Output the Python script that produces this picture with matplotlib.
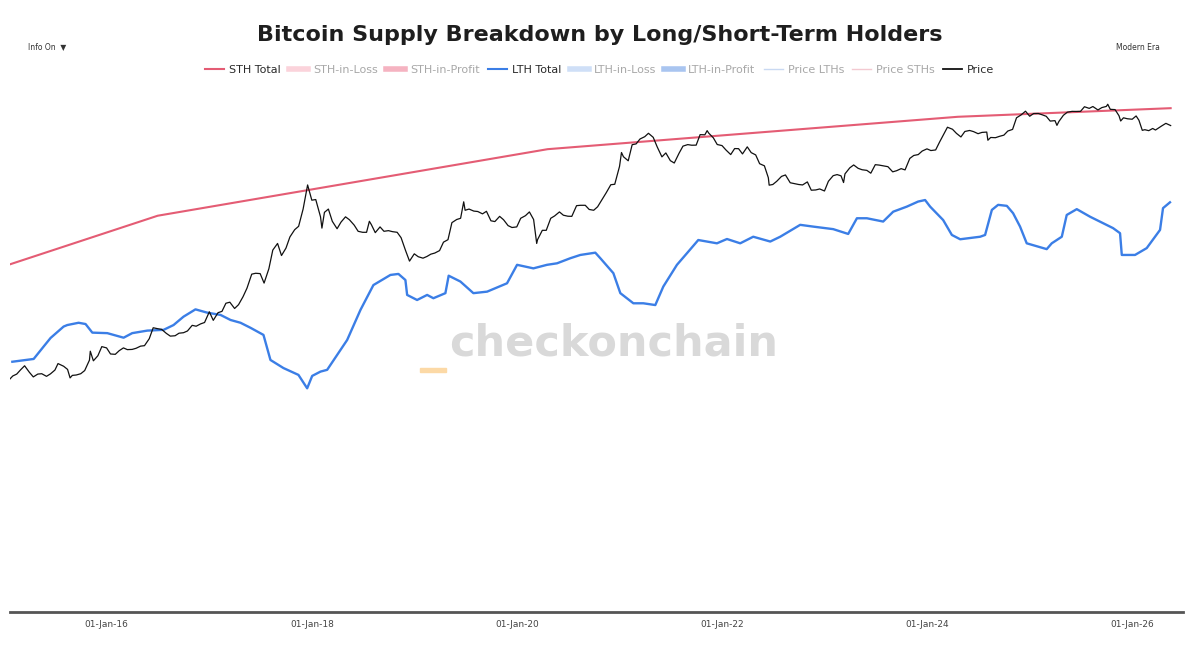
import matplotlib
matplotlib.use("Agg")
import matplotlib.pyplot as plt
import matplotlib.dates as mdates
from matplotlib.lines import Line2D
from matplotlib.patches import Rectangle
import pandas as pd
import numpy as np

# ---------------- data ----------------
price_dates = [
 "2015-01-22","2015-02-01","2015-02-15","2015-03-01","2015-03-15","2015-04-01","2015-04-15","2015-05-01","2015-05-15",
 "2015-06-01","2015-06-15","2015-07-01","2015-07-12","2015-08-01","2015-08-15","2015-08-24","2015-09-01","2015-09-15",
 "2015-10-01","2015-10-15","2015-11-01","2015-11-04","2015-11-15","2015-12-01","2015-12-15",
 "2016-01-01","2016-01-15","2016-02-01","2016-02-15","2016-03-01","2016-03-15","2016-04-01","2016-04-15","2016-05-01",
 "2016-05-15","2016-06-01","2016-06-15","2016-07-01","2016-07-15","2016-08-01","2016-08-15","2016-09-01","2016-09-15",
 "2016-10-01","2016-10-15","2016-11-01","2016-11-15","2016-12-01","2016-12-15",
 "2017-01-01","2017-01-15","2017-02-01","2017-02-15","2017-03-01","2017-03-15","2017-04-01","2017-04-15","2017-05-01",
 "2017-05-15","2017-06-01","2017-06-15","2017-07-01","2017-07-15","2017-08-01","2017-08-15","2017-09-01","2017-09-15",
 "2017-10-01","2017-10-15","2017-11-01","2017-11-15","2017-12-01","2017-12-17",
 "2018-01-01","2018-01-15","2018-02-01","2018-02-06","2018-02-15","2018-03-01","2018-03-15","2018-04-01","2018-04-15",
 "2018-05-01","2018-05-15","2018-06-01","2018-06-15","2018-07-01","2018-07-15","2018-07-25","2018-08-01","2018-08-15",
 "2018-09-01","2018-09-15","2018-10-01","2018-10-15","2018-11-01","2018-11-15","2018-12-01","2018-12-15",
 "2019-01-01","2019-01-15","2019-02-01","2019-02-15","2019-03-01","2019-03-15","2019-04-01","2019-04-15","2019-05-01",
 "2019-05-15","2019-06-01","2019-06-15","2019-06-26","2019-07-01","2019-07-15","2019-08-01","2019-08-15","2019-09-01",
 "2019-09-15","2019-10-01","2019-10-15","2019-11-01","2019-11-15","2019-12-01","2019-12-15",
 "2020-01-01","2020-01-15","2020-02-01","2020-02-15","2020-03-01","2020-03-12","2020-03-15","2020-04-01","2020-04-15",
 "2020-05-01","2020-05-15","2020-06-01","2020-06-15","2020-07-01","2020-07-15","2020-08-01","2020-08-15","2020-09-01",
 "2020-09-15","2020-10-01","2020-10-15","2020-11-01","2020-11-15","2020-12-01","2020-12-15",
 "2021-01-01","2021-01-08","2021-01-15","2021-02-01","2021-02-15","2021-03-01","2021-03-15","2021-04-01","2021-04-14",
 "2021-05-01","2021-05-15","2021-06-01","2021-06-15","2021-07-01","2021-07-15","2021-08-01","2021-08-15","2021-09-01",
 "2021-09-15","2021-10-01","2021-10-15","2021-11-01","2021-11-09","2021-11-15","2021-12-01","2021-12-15",
 "2022-01-01","2022-01-15","2022-02-01","2022-02-15","2022-03-01","2022-03-15","2022-04-01","2022-04-15","2022-05-01",
 "2022-05-15","2022-06-01","2022-06-15","2022-06-18","2022-07-01","2022-07-15","2022-08-01","2022-08-15","2022-09-01",
 "2022-09-15","2022-10-01","2022-10-15","2022-11-01","2022-11-15","2022-12-01","2022-12-15",
 "2023-01-01","2023-01-15","2023-02-01","2023-02-15","2023-03-01","2023-03-10","2023-03-15","2023-04-01","2023-04-15",
 "2023-05-01","2023-05-15","2023-06-01","2023-06-15","2023-07-01","2023-07-15","2023-08-01","2023-08-15","2023-09-01",
 "2023-09-15","2023-10-01","2023-10-15","2023-11-01","2023-11-15","2023-12-01","2023-12-15",
 "2024-01-01","2024-01-15","2024-02-01","2024-02-15","2024-03-01","2024-03-14","2024-04-01","2024-04-15","2024-05-01",
 "2024-05-15","2024-06-01","2024-06-15","2024-07-01","2024-07-15","2024-08-01","2024-08-05","2024-08-15","2024-09-01",
 "2024-09-15","2024-10-01","2024-10-15","2024-11-01","2024-11-15","2024-12-01","2024-12-17",
 "2025-01-01","2025-01-15","2025-02-01","2025-02-15","2025-03-01","2025-03-15","2025-04-01","2025-04-08","2025-04-15",
 "2025-05-01","2025-05-15","2025-06-01","2025-06-15","2025-07-01","2025-07-15","2025-08-01","2025-08-14","2025-09-01",
 "2025-09-15","2025-10-01","2025-10-06","2025-10-15","2025-11-01","2025-11-15","2025-11-21","2025-12-01","2025-12-15",
 "2026-01-01","2026-01-15","2026-01-25","2026-02-06","2026-02-15","2026-03-01","2026-03-15","2026-03-25","2026-04-15",
 "2026-05-01","2026-05-18",
]
price_usd = [
 210,225,235,260,285,245,220,235,237,
 223,236,258,300,282,262,215,228,230,
 237,255,325,400,320,360,445,
 432,375,372,405,432,415,417,428,450,
 455,535,690,675,665,605,568,573,608,
 615,640,730,715,755,780,
 1000,820,980,1010,1220,1250,1080,1180,1420,
 1730,2400,2450,2430,1950,2720,4200,4900,3700,
 4400,5700,6750,7300,10900,19100,
 13400,13600,9100,7000,10100,10900,8200,6900,8050,
 9100,8500,7500,6500,6350,6350,8200,7600,6300,
 7200,6500,6600,6450,6350,5600,4150,3250,
 3850,3600,3480,3620,3820,3920,4150,5050,5350,
 7950,8550,8800,12900,10600,10900,10400,10300,9750,
 10350,8300,8150,9200,8500,7420,7100,
 7200,8800,9350,10200,8550,4900,5350,6650,6650,
 8800,9300,10200,9450,9230,9200,11800,11900,11900,
 10800,10600,11500,13750,16000,19200,19400,
 29400,40600,36800,33500,48700,49600,55600,58700,63500,
 57800,46400,36700,40200,33600,31800,39900,47100,48800,
 48100,48200,61500,61300,67500,63600,57200,48900,
 47700,43100,38700,44500,44400,39300,46300,40500,38400,
 31300,29800,22600,19000,19300,20800,23300,24100,20100,
 19700,19300,19100,20500,16900,17000,17400,
 16600,20800,23700,24300,23600,20200,24700,28400,30400,
 28100,27200,26800,25100,30600,30300,29700,29200,25900,
 26600,27900,27100,35400,37900,38700,42000,
 44200,42500,43100,51800,62400,73100,69700,63400,58300,
 66200,67800,66000,62900,64800,65300,54000,57600,57300,
 59100,60800,66900,69500,91000,97200,106100,
 94400,100500,100600,97500,94200,84300,85200,76300,83600,
 96500,103700,105700,105500,105700,117700,113300,118300,109200,
 115400,118600,124700,110800,110100,95500,84500,91000,89000,
 88000,95000,86000,68000,69000,67500,71000,68500,75000,
 80000,76000,
]

# Total (STH Total) supply, millions BTC
sth_dates = ["2015-01-22", "2016-07-01", "2020-04-20", "2024-04-20", "2026-05-18"]
sth_total = [13.74, 15.66, 18.29, 19.57, 19.91]

# LTH supply, millions BTC (decimal years)
lth_years = [
 2015.081,2015.289,2015.386,2015.454,2015.581,2015.617,2015.727,2015.795,2015.861,2016.007,
 2016.166,2016.250,2016.397,2016.556,2016.653,2016.750,2016.867,2016.981,2017.111,2017.209,
 2017.306,2017.404,2017.530,2017.598,2017.725,2017.871,2017.956,2018.005,2018.086,2018.151,
 2018.346,2018.476,2018.602,2018.768,2018.846,2018.914,2018.931,2019.028,2019.126,2019.187,
 2019.304,2019.336,2019.450,2019.577,2019.711,2019.905,2020.003,2020.162,2020.295,2020.393,
 2020.522,2020.620,2020.766,2020.815,2020.942,2021.010,2021.137,2021.234,2021.351,2021.429,
 2021.562,2021.660,2021.770,2021.952,2022.050,2022.179,2022.306,2022.472,2022.569,2022.764,
 2022.891,2023.086,2023.232,2023.317,2023.414,2023.573,2023.671,2023.804,2023.914,2023.982,
 2024.031,2024.158,2024.243,2024.324,2024.519,2024.567,2024.633,2024.694,2024.779,2024.840,
 2024.908,2024.973,2025.168,2025.217,2025.315,2025.363,2025.461,2025.591,2025.815,2025.883,
 2025.900,2026.029,2026.143,2026.273,2026.302,2026.370,
]
lth_supply = [
 9.89,10.00,10.49,10.83,11.28,11.34,11.43,11.38,11.04,11.02,
 10.84,11.02,11.12,11.15,11.34,11.67,11.96,11.83,11.74,11.54,
 11.43,11.23,10.95,9.96,9.64,9.37,8.84,9.33,9.50,9.57,
 10.75,11.94,12.92,13.32,13.36,13.12,12.53,12.33,12.53,12.40,
 12.60,13.29,13.06,12.60,12.66,12.99,13.72,13.58,13.72,13.78,
 13.98,14.11,14.20,13.98,13.39,12.60,12.20,12.20,12.13,12.86,
 13.72,14.18,14.70,14.57,14.74,14.57,14.83,14.64,14.83,15.30,
 15.23,15.13,14.94,15.56,15.56,15.43,15.82,16.02,16.22,16.28,
 16.02,15.49,14.90,14.73,14.83,14.90,15.89,16.09,16.05,15.76,
 15.23,14.57,14.34,14.57,14.83,15.69,15.92,15.62,15.17,14.97,
 14.11,14.11,14.38,15.10,15.96,16.19,
]

tick_years = [2016, 2018, 2020, 2022, 2024, 2026]

legend_labels = ["STH Total", "STH-in-Loss", "STH-in-Profit", "LTH Total", "LTH-in-Loss",
                 "LTH-in-Profit", "Price LTHs", "Price STHs", "Price"]
legend_colors = ["#e45c74", "#fbd3db", "#f5b3c1", "#3b7ee6", "#cfdff7",
                 "#a9c5f0", "#c9d9f2", "#f3c9d1", "#111111"]
legend_widths = [1.5, 4, 4, 1.5, 4, 4, 1, 1, 1.3]
legend_active = [True, False, False, True, False, False, False, False, True]

# ---------------- figure ----------------
plt.rcParams['font.family'] = ['DejaVu Sans']
fig = plt.figure(figsize=(12, 6.53), dpi=100)
ax = fig.add_axes([10/1200, 1-612/653, 1173/1200, 519/653])

p_dates = pd.to_datetime(price_dates)
s_dates = pd.to_datetime(sth_dates)
base = pd.Timestamp("2016-01-01")
l_dates = base + pd.to_timedelta((np.array(lth_years) - 2016.0) * 365.25, unit="D")

ax.plot(s_dates, sth_total, color=legend_colors[0], lw=1.5, zorder=3)
ax.plot(l_dates, lth_supply, color=legend_colors[3], lw=1.7, zorder=3)
ax.set_ylim(0, 20.51)

ax2 = ax.twinx()
ax2.set_yscale("log")
ax2.plot(p_dates, price_usd, color="#111111", lw=0.9, zorder=4)
ax2.set_ylim(0.93, 162000)

ax.set_xlim(pd.Timestamp("2015-01-22"), pd.Timestamp("2026-07-01"))

for a in (ax, ax2):
    for s in ["top", "right", "left"]:
        a.spines[s].set_visible(False)
    a.set_yticks([])
    a.yaxis.set_minor_locator(matplotlib.ticker.NullLocator())
ax2.spines["bottom"].set_visible(False)
ax.spines["bottom"].set_color("#555555")
ax.spines["bottom"].set_linewidth(2)

ax.set_xticks([pd.Timestamp(f"{y}-01-01") for y in tick_years])
ax.xaxis.set_major_formatter(mdates.DateFormatter("%d-%b-%y"))
ax.tick_params(axis="x", length=0, pad=6, labelsize=6.5, labelcolor="#444444")

# title & small texts
fig.text(0.5, 1-35/653, "Bitcoin Supply Breakdown by Long/Short-Term Holders",
         ha="center", va="center", fontsize=16, fontweight="bold", color="#1e1e1e")
fig.text(28/1200, 1-47/653, "Info On  \u25BC", ha="left", va="center", fontsize=5.5, color="#333333")
fig.text(1116/1200, 1-48/653, "Modern Era", ha="left", va="center", fontsize=5.5, color="#333333")

# legend
handles = [Line2D([0], [0], color=c, lw=w) for c, w in zip(legend_colors, legend_widths)]
leg = fig.legend(handles, legend_labels, loc="center", bbox_to_anchor=(0.5, 1-70/653), ncol=9,
                 frameon=False, fontsize=8, handlelength=1.7, handletextpad=0.45, columnspacing=0.75)
for t, act in zip(leg.get_texts(), legend_active):
    t.set_color("#2a2a2a" if act else "#a8a8a8")

# watermark
fig.text(449/1200, 1-356/653, "checkonchain", ha="left", va="baseline", fontsize=31,
         fontweight="bold", color="#d9d9d9", zorder=1)
fig.patches.append(Rectangle((420/1200, 1-372/653), 26/1200, 4/653, color="#fcd9a6",
                             transform=fig.transFigure, zorder=1))

fig.savefig("out.png", dpi=100)
